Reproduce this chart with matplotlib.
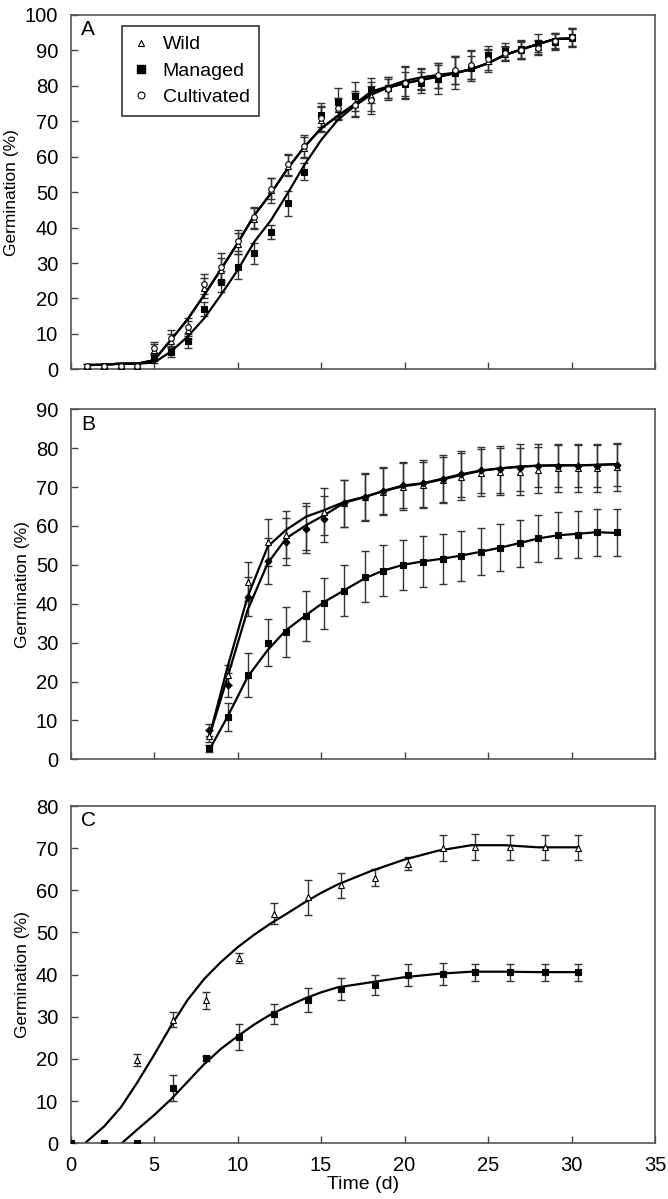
import numpy as np
import matplotlib
matplotlib.use("Agg")
import matplotlib.pyplot as plt
from matplotlib.lines import Line2D

plt.rcParams['font.family'] = ['Liberation Sans', 'DejaVu Sans']

# ---------------- Panel A data ----------------
a_x = [1, 2, 3, 4, 5, 6, 7, 8, 9, 10, 11, 12, 13, 14, 15, 16, 17, 18, 19, 20,
       21, 22, 23, 24, 25, 26, 27, 28, 29, 30]
a_wild = [1, 1, 1, 1, 5.5, 8, 11, 23, 28, 35.5, 42.5, 50.5, 57.5, 62.5, 70.5, 73.5, 75, 77,
          79.5, 81, 82, 83, 84.5, 86, 87, 89, 90, 91, 92.5, 93.5]
a_wild_err = [0.5, 0.5, 0.5, 0.5, 1.5, 2, 2.5, 2.8, 3.5, 3, 3, 3.5, 3, 3, 3.5, 3, 3.5, 4,
              3, 4.5, 3, 3.5, 4, 4, 3, 2, 2.5, 2, 2, 2.5]
a_managed = [None, None, None, None, 3.1, 5, 8, 17, 24.7, 29, 32.7, 38.7, 46.8, 55.8, 71.8,
             75.5, 77, 78.8, 79.5, 80.5, 80.9, 81.8, 83.7, 85, 88.7, 89.7, 90.5, 92, 92.5, 93.7]
a_managed_err = [0, 0, 0, 0, 1.2, 1.5, 2, 2, 3, 3.5, 3, 2, 3.5, 2.5, 3.5, 4, 4, 3.5,
                 3, 3.5, 3, 4, 4.5, 3.5, 2.5, 2.5, 2.5, 2.5, 2.5, 2.5]
a_cult = [1, 1, 1, 1, 6.1, 8.7, 11.9, 24, 29, 36.3, 42.9, 51, 57.9, 63, 70.8, 73.7, 74.6, 76,
          79, 80.9, 81.7, 83, 84.5, 85.9, 87.5, 89.2, 90.1, 90.6, 92.8, 93.7]
a_cult_err = [0.5, 0.5, 0.5, 0.5, 1.5, 2.5, 2.5, 2.8, 3.7, 3, 3, 3, 3, 3, 3.5, 3, 3.5, 4,
              3, 4.5, 3, 3.5, 4, 4, 3, 2, 2.5, 2, 2, 2.5]
# fitted curves
a_fit_wild = [1.2, 1.3, 1.6, 1.6, 2.6, 8.3, 14.1, 21, 28.2, 35.6, 43.5, 49.7, 56.7, 62.8, 68,
              71.5, 74.8, 78, 79.5, 80.7, 81.7, 82.5, 83.5, 84.7, 86.4, 88.7, 90.3, 91.8, 93.2, 93.4]
a_fit_managed = [1.2, 1.3, 1.6, 1.6, 1.9, 5, 9.2, 14.4, 21, 28, 36, 42.1, 49.7, 57.7, 64.7,
                 70.4, 74.3, 77.5, 79.5, 80.7, 81.7, 82.7, 83.6, 84.7, 86.4, 88.7, 90.3, 91.8, 93.2, 93.4]
a_fit_cult = [1.2, 1.3, 1.6, 1.6, 2.6, 8.3, 14.1, 21, 28.2, 35.6, 43.5, 49.7, 56.7, 62.8, 68,
              71.5, 74.8, 78.4, 79.8, 81.4, 82.4, 83.1, 83.7, 84.7, 86.4, 88.7, 90.3, 91.8, 93.2, 93.4]

# ---------------- Panel B data ----------------
b_x = [8.3, 9.4, 10.6, 11.8, 12.9, 14.1, 15.2, 16.4, 17.6, 18.7, 19.9, 21.1, 22.3, 23.4,
       24.6, 25.7, 26.9, 28.0, 29.2, 30.4, 31.5, 32.7]
b_wild = [6, 21.7, 45.7, 55.8, 57.8, 59.8, 63.7, 65.8, 67.5, 68.8, 70.1, 70.5, 71.8, 72.7,
          73.7, 74, 74, 74.4, 74.8, 74.8, 74.8, 75.1]
b_wild_err = [1.5, 2.5, 5, 6, 6, 6, 6, 6, 6, 6, 6, 6, 6, 6, 6, 6, 6, 6, 6, 6, 6, 6]
b_managed = [2.8, 10.8, 21.7, 30, 32.7, 36.9, 40.1, 43.4, 47, 48.5, 50, 50.8, 51.5, 52.3,
             53.4, 54.4, 55.5, 56.8, 57.7, 57.8, 58.4, 58.4]
b_managed_err = [1, 3.6, 5.6, 6, 6.5, 6.5, 6.5, 6.5, 6.5, 6.5, 6.5, 6.5, 6.5, 6.5,
                 6, 6, 6, 6, 6, 6, 6, 6]
b_cult = [7.5, 19.1, 41.8, 51, 56, 59.1, 61.8, 65.8, 67.4, 69.1, 70.5, 71, 72.2, 73.4,
          74.4, 74.6, 75, 75.5, 75.5, 75.5, 75.5, 75.8]
b_cult_err = [1.5, 3, 5, 6, 6, 6, 6, 6, 6, 6, 6, 6, 6, 6, 6, 6, 6, 5.5, 5.5, 5.5, 5.5, 5.5]
b_fit_wild = [5.8, 23.8, 41.8, 54.7, 59, 62.4, 64.1, 66.2, 67.5, 68.9, 70.2, 70.9, 72,
              73.1, 74.2, 74.8, 75.3, 75.5, 75.6, 75.6, 75.7, 75.9]
b_fit_managed = [2.4, 11, 21.2, 28.1, 33.2, 37.1, 40.5, 43.5, 46.5, 48.5, 50, 50.9, 51.6,
                 52.4, 53.4, 54.4, 55.6, 56.8, 57.6, 58, 58.4, 58.2]
b_fit_cult = [5.8, 21.2, 38.4, 50.4, 56.8, 60.2, 62.8, 66, 67.4, 69, 70.4, 71, 72.2,
              73.3, 74.3, 74.8, 75.2, 75.5, 75.6, 75.6, 75.7, 75.9]

# ---------------- Panel C data ----------------
c_x = [0, 2, 4, 6.1, 8.1, 10.1, 12.2, 14.2, 16.2, 18.2, 20.2, 22.3, 24.2, 26.3, 28.4, 30.4]
c_wild = [None, None, 19.7, 29.3, 33.9, 43.9, 54.5, 58.3, 61.2, 63, 66.3, 70.1, 70.2,
          70.2, 70.2, 70.1]
c_wild_err = [0, 0, 1.4, 1.8, 2, 1.2, 2.4, 4.1, 3, 2, 1.5, 3.1, 3.1, 3, 3, 3]
c_managed = [0, 0, 0, 13.1, 20.2, 25.2, 30.7, 34, 36.5, 37.6, 40, 40.2, 40.6, 40.6, 40.6, 40.6]
c_managed_err = [0, 0, 0, 3.1, 0.6, 3, 2.4, 2.8, 2.6, 2.4, 2.6, 2.6, 2, 2, 2, 2]
c_fit_x = [0.85, 2, 3, 4, 5, 6, 7, 8, 9, 10, 11, 12, 13, 14, 15, 16, 18, 20, 22, 24, 26, 28, 30.4]
c_fit_wild = [0, 4, 8.5, 14.5, 21, 27.8, 34, 39, 43, 46.5, 49.5, 52.2, 54.6, 57.1, 59.4,
              61.4, 64.6, 67.3, 69.4, 70.7, 70.7, 70.2, 70.2]
c_fit_m_x = [3.05, 4, 5, 6, 7, 8, 9, 10, 11, 12, 13, 14, 15, 16, 18, 20, 22, 24, 26, 28, 30.4]
c_fit_managed = [0, 3.3, 6.7, 10.4, 14.6, 18.8, 22.4, 25.4, 28.2, 30.6, 32.5, 34.3, 35.8,
                 37, 38.2, 39.4, 40.2, 40.7, 40.7, 40.6, 40.6]

# ---------------- Figure ----------------
W, H = 668, 1199
fig = plt.figure(figsize=(W / 100, H / 100), dpi=100)
left = 70.7 / W
width = (655 - 70.7) / W

def ax_rect(top_px, bot_px):
    return [left, 1 - bot_px / H, width, (bot_px - top_px) / H]

axA = fig.add_axes(ax_rect(15, 369.3))
axB = fig.add_axes(ax_rect(409.3, 759.3))
axC = fig.add_axes(ax_rect(806, 1143.3))

ecol = '#333333'
def errs(ax, x, y, e, marker, mfc, ms, zorder=3):
    xs = [xi for xi, yi in zip(x, y) if yi is not None]
    ys = [yi for yi in y if yi is not None]
    es = [ei for ei, yi in zip(e, y) if yi is not None]
    ax.errorbar(xs, ys, yerr=es, fmt='none', ecolor=ecol, elinewidth=1.0,
                capsize=3.2, capthick=1.0, zorder=2)
    ax.plot(xs, ys, linestyle='none', marker=marker, mfc=mfc, mec='black',
            ms=ms, mew=0.8, zorder=zorder)

lw = 1.6
# Panel A
axA.plot(a_x, a_fit_managed, color='black', lw=lw, zorder=2.5)
axA.plot(a_x, a_fit_wild, color='black', lw=lw, zorder=2.5)
axA.plot(a_x, a_fit_cult, color='black', lw=lw, zorder=2.5)
errs(axA, a_x, a_wild, a_wild_err, '^', 'white', 4)
errs(axA, a_x, a_managed, a_managed_err, 's', 'black', 4.5)
errs(axA, a_x, a_cult, a_cult_err, 'o', 'white', 4)

# Panel B
axB.plot(b_x, b_fit_managed, color='black', lw=lw, zorder=2.5)
axB.plot(b_x, b_fit_wild, color='black', lw=lw, zorder=2.5)
axB.plot(b_x, b_fit_cult, color='black', lw=lw, zorder=2.5)
errs(axB, b_x, b_wild, b_wild_err, '^', 'white', 5)
errs(axB, b_x, b_managed, b_managed_err, 's', 'black', 5)
errs(axB, b_x, b_cult, b_cult_err, 'D', 'black', 3.5)

# Panel C
axC.plot(c_fit_x, c_fit_wild, color='black', lw=lw, zorder=2.5)
axC.plot(c_fit_m_x, c_fit_managed, color='black', lw=lw, zorder=2.5)
errs(axC, c_x, c_wild, c_wild_err, '^', 'white', 5)
errs(axC, c_x, c_managed, c_managed_err, 's', 'black', 5)

for ax, ymax, lab in [(axA, 100, 'A'), (axB, 90, 'B'), (axC, 80, 'C')]:
    ax.set_xlim(0, 35)
    ax.set_ylim(0, ymax)
    ax.set_yticks(np.arange(0, ymax + 1, 10))
    ax.set_xticks(np.arange(0, 36, 5))
    ax.tick_params(direction='in', length=5, width=1, labelsize=14.5, color='#444444',
                   top=False, right=False, pad=9)
    for s in ax.spines.values():
        s.set_color('#555555')
        s.set_linewidth(1.2)
    ax.set_ylabel('Germination (%)', fontsize=12.5, labelpad=4)
    ax.text(0.018, 0.985, lab, transform=ax.transAxes, fontsize=15, va='top', ha='left')
    if ax is not axC:
        ax.tick_params(labelbottom=False)

axC.set_xlabel('Time (d)', fontsize=14, labelpad=1)

handles = [
    Line2D([], [], ls='none', marker='^', mfc='white', mec='black', ms=5, mew=0.8),
    Line2D([], [], ls='none', marker='s', mfc='black', mec='black', ms=6),
    Line2D([], [], ls='none', marker='o', mfc='white', mec='black', ms=5, mew=0.8),
]
leg = axA.legend(handles, ['Wild', 'Managed', 'Cultivated'], loc='upper left',
                 bbox_to_anchor=(0.0873, 0.969), borderaxespad=0, fontsize=14,
                 frameon=True, fancybox=False, edgecolor='black', handlelength=1.0,
                 handletextpad=0.6, borderpad=0.5, labelspacing=0.45)
leg.get_frame().set_linewidth(1.2)

fig.savefig('out.png', dpi=100)
